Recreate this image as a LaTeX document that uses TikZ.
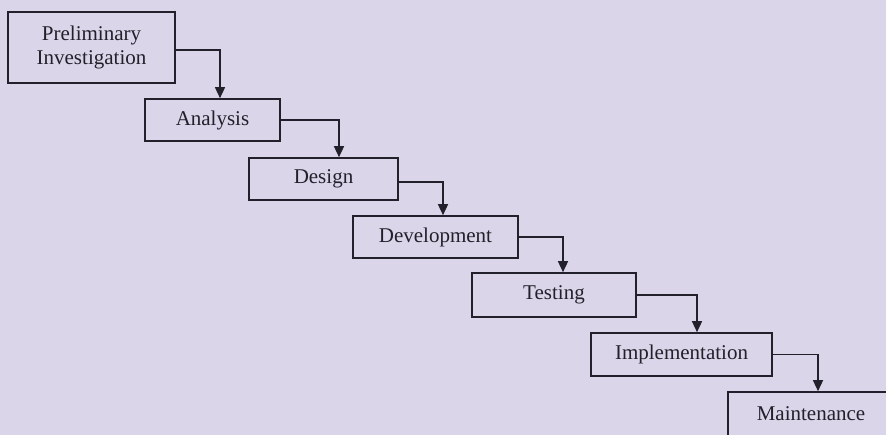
\documentclass[tikz,border=0pt]{standalone}
\usepackage{fontspec}
\setmainfont{Liberation Serif}
\usetikzlibrary{arrows.meta}
\definecolor{paper}{RGB}{219,213,234}
\definecolor{ink}{RGB}{34,32,42}
\begin{document}
\begin{tikzpicture}[x=1pt,y=-1pt,
  phase/.style={draw=ink, line width=1.6pt, fill=paper, rectangle,
    inner sep=0pt, font=\fontsize{21}{24}\selectfont, text=ink, align=center},
  flow/.style={draw=ink, line width=1.4pt, -{Triangle[length=11pt,width=10pt]}}]
\useasboundingbox (0,0) rectangle (886,435);
\clip (0,0) rectangle (886,435);
\fill[paper] (0,0) rectangle (886,435);

% phases of the waterfall
\node[phase, minimum width=167pt, minimum height=71pt] (pre) at (91.5,47.5) {Preliminary\\Investigation};
\node[phase, minimum width=135pt, minimum height=42pt] (ana) at (212.5,120) {Analysis};
\node[phase, minimum width=149pt, minimum height=42pt] (des) at (323.5,179) {Design};
\node[phase, minimum width=165pt, minimum height=42pt] (dev) at (435.5,237) {Development};
\node[phase, minimum width=164pt, minimum height=44pt] (tes) at (554,295) {Testing};
\node[phase, minimum width=181pt, minimum height=43pt] (imp) at (681.5,354.5) {Implementation};
\node[phase, minimum width=166pt, minimum height=44pt] (mai) at (811,414) {Maintenance};

% step-down connectors
\draw[flow] ([yshift=-2.5pt]pre.east) -| ([xshift=7.5pt]ana.north);
\draw[flow] (ana.east) -| ([xshift=15.5pt]des.north);
\draw[flow] ([yshift=-3pt]des.east) -| ([xshift=7.5pt]dev.north);
\draw[flow] (dev.east) -| ([xshift=9pt]tes.north);
\draw[flow] (tes.east) -| ([xshift=15.5pt]imp.north);
\draw[flow] (imp.east) -| ([xshift=7pt]mai.north);
\end{tikzpicture}
\end{document}
